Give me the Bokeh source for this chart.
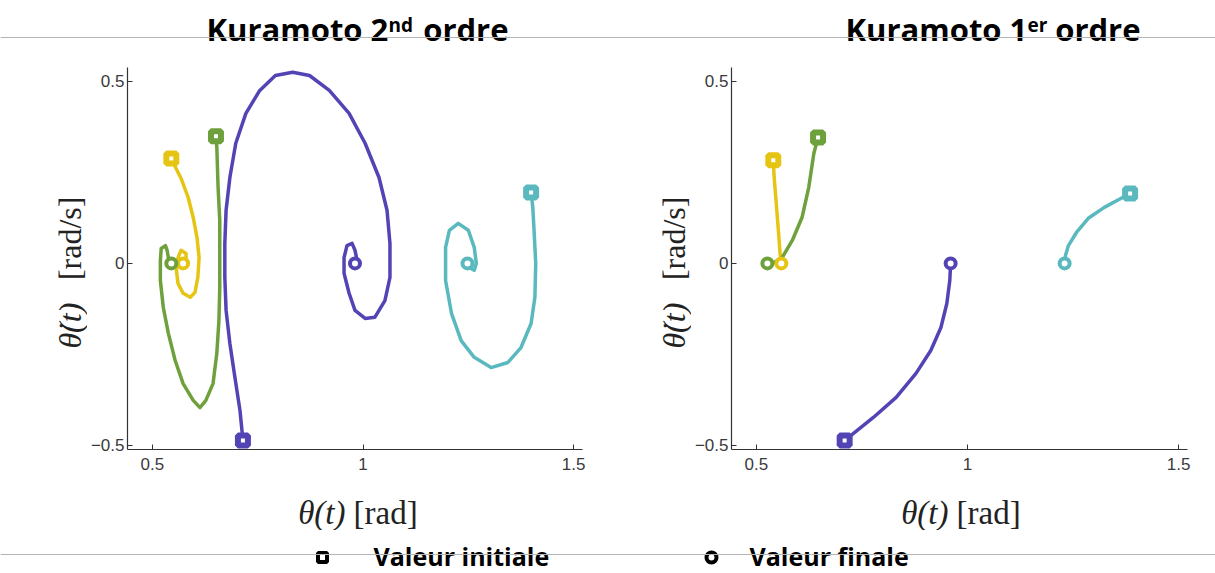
import math
from bokeh.plotting import figure
from bokeh.models import Range1d, FixedTicker, Span
from bokeh.layouts import column, row
from bokeh.embed import file_html
from bokeh.resources import INLINE
from bokeh.core.properties import value

# ---------------- data : Kuramoto 2nd ordre (left) ----------------
o2_yellow_x = [0.545, 0.550, 0.568, 0.585, 0.597, 0.606, 0.611, 0.608, 0.601, 0.590, 0.573, 0.561,
               0.557, 0.561, 0.568, 0.580, 0.580, 0.573, 0.573]
o2_yellow_y = [0.288, 0.275, 0.234, 0.181, 0.126, 0.071, 0.016, -0.038, -0.080, -0.093, -0.082, -0.055,
               -0.019, 0.016, 0.036, 0.027, 0.000, -0.011, 0.000]

o2_green_x = [0.651, 0.653, 0.656, 0.660, 0.660, 0.660, 0.658, 0.653, 0.644, 0.627, 0.613, 0.597,
              0.573, 0.554, 0.538, 0.526, 0.519, 0.519, 0.521, 0.531, 0.535, 0.538, 0.545]
o2_green_y = [0.349, 0.319, 0.209, 0.118, 0.027, -0.066, -0.157, -0.247, -0.330, -0.376, -0.396, -0.376,
              -0.330, -0.266, -0.192, -0.121, -0.047, 0.008, 0.041, 0.049, 0.036, 0.016, 0.000]

o2_purple_x = [0.715, 0.708, 0.696, 0.684, 0.675, 0.672, 0.672, 0.675, 0.684, 0.698, 0.722, 0.755,
               0.792, 0.833, 0.873, 0.920, 0.967, 1.005, 1.038, 1.057, 1.064, 1.064, 1.052, 1.028,
               1.005, 0.981, 0.967, 0.955, 0.955, 0.962, 0.974, 0.981, 0.986, 0.981]
o2_purple_y = [-0.486, -0.404, -0.313, -0.220, -0.129, -0.038, 0.055, 0.146, 0.236, 0.330, 0.412, 0.475,
               0.516, 0.525, 0.516, 0.475, 0.412, 0.330, 0.236, 0.146, 0.055, -0.038, -0.102, -0.148,
               -0.151, -0.129, -0.082, -0.027, 0.016, 0.049, 0.055, 0.036, 0.008, 0.000]

o2_cyan_x = [1.399, 1.403, 1.406, 1.410, 1.408, 1.399, 1.375, 1.344, 1.304, 1.264, 1.233, 1.210,
             1.196, 1.196, 1.205, 1.226, 1.250, 1.264, 1.269, 1.264, 1.252, 1.248]
o2_cyan_y = [0.195, 0.154, 0.091, 0.000, -0.093, -0.165, -0.231, -0.272, -0.286, -0.258, -0.212, -0.137,
             -0.047, 0.044, 0.091, 0.110, 0.091, 0.044, 0.000, -0.019, -0.011, 0.000]

# ---------------- data : Kuramoto 1er ordre (right) ----------------
o1_yellow_x = [0.540, 0.542, 0.547, 0.552, 0.556, 0.559]
o1_yellow_y = [0.283, 0.236, 0.165, 0.091, 0.027, 0.000]

o1_green_x = [0.646, 0.636, 0.624, 0.608, 0.585, 0.561, 0.538, 0.526]
o1_green_y = [0.346, 0.302, 0.209, 0.126, 0.063, 0.016, 0.000, 0.000]

o1_purple_x = [0.709, 0.730, 0.777, 0.831, 0.878, 0.913, 0.937, 0.951, 0.958, 0.960]
o1_purple_y = [-0.486, -0.467, -0.423, -0.368, -0.302, -0.239, -0.176, -0.110, -0.047, 0.000]

o1_cyan_x = [1.385, 1.364, 1.324, 1.286, 1.258, 1.239, 1.232, 1.230]
o1_cyan_y = [0.192, 0.179, 0.154, 0.124, 0.085, 0.049, 0.022, 0.000]

x_ticks = [0.5, 1.0, 1.5]
x_tick_labels = ["0.5", "1", "1.5"]
y_ticks = [-0.5, 0.0, 0.5]
y_tick_labels = ["\u22120.5", "0", "0.5"]

titles = [("Kuramoto 2", "nd", "ordre"), ("Kuramoto 1", "er", "ordre")]
legend_labels = ["Valeur initiale", "Valeur finale"]
x_label = ("\u03b8(t)", "[rad]")
y_label = ("\u03b8\u0307(t)", "[rad/s]")

PURPLE = "#5244B5"
YELLOW = "#E6C414"
GREEN = "#6EA03C"
CYAN = "#5AB9BE"

SERIF = value("Liberation Serif")
BOLD = value("Open Sans")
LABEL_COLOR = "#222222"
W = 1215


def panel(width, border_left, border_right, series):
    p = figure(width=width, height=424, x_range=Range1d(0.441, 1.521), y_range=Range1d(-0.511, 0.538),
               output_backend="svg", toolbar_location=None,
               min_border_left=border_left, min_border_right=border_right,
               min_border_top=9, min_border_bottom=33)
    p.grid.visible = False
    p.outline_line_color = None
    for xs, ys, col in series:
        p.line(xs, ys, line_color=col, line_width=3.5, line_join="round", line_cap="round")
    for xs, ys, col in series:
        p.scatter([xs[0]], [ys[0]], marker="square", size=10, line_width=6, line_color=col, fill_color="white")
        p.scatter([xs[-1]], [ys[-1]], marker="circle", size=10, line_width=4, line_color=col, fill_color="white")
    for ax in (p.xaxis[0], p.yaxis[0]):
        ax.axis_line_color = "#333333"
        ax.axis_line_width = 1.2
        ax.major_tick_line_color = "#333333"
        ax.major_tick_in = 5
        ax.major_tick_out = 0
        ax.minor_tick_line_color = None
        ax.major_label_text_font = "Liberation Sans"
        ax.major_label_text_font_size = "17px"
        ax.major_label_text_color = "#3a3a3a"
    p.xaxis.ticker = FixedTicker(ticks=x_ticks)
    p.xaxis.major_label_overrides = dict(zip(x_ticks, x_tick_labels))
    p.xaxis.major_label_standoff = 8
    p.yaxis.ticker = FixedTicker(ticks=y_ticks)
    p.yaxis.major_label_overrides = dict(zip(y_ticks, y_tick_labels))
    p.yaxis.major_label_standoff = 3
    return p


def strip(width, height):
    f = figure(width=width, height=height, x_range=Range1d(0, width), y_range=Range1d(0, height),
               output_backend="svg", toolbar_location=None, min_border=0,
               x_axis_location=None, y_axis_location=None)
    f.grid.visible = False
    f.outline_line_color = None
    return f


def ylabel_strip(width, xc):
    f = strip(width, 424)   # local y = 482 - page_y
    f.text(x=[xc], y=[112], text=[y_label[0]], angle=math.pi / 2, text_font=SERIF, text_font_style="italic",
           text_font_size="32px", text_align="left", text_baseline="middle", text_color=LABEL_COLOR)
    f.text(x=[xc], y=[188], text=[y_label[1]], angle=math.pi / 2, text_font=SERIF,
           text_font_size="32px", text_align="left", text_baseline="middle", text_color=LABEL_COLOR)
    return f


# panels: page y 58..482 ; frames at page x 124..582 and 727..1187, y 67..449
left = panel(521, 37, 26, [(o2_yellow_x, o2_yellow_y, YELLOW), (o2_green_x, o2_green_y, GREEN),
                           (o2_purple_x, o2_purple_y, PURPLE), (o2_cyan_x, o2_cyan_y, CYAN)])
right = panel(524, 36, 28, [(o1_yellow_x, o1_yellow_y, YELLOW), (o1_green_x, o1_green_y, GREEN),
                            (o1_purple_x, o1_purple_y, PURPLE), (o1_cyan_x, o1_cyan_y, CYAN)])
ylab_left = ylabel_strip(87, 69)       # page x 0..87
ylab_right = ylabel_strip(83, 65)      # page x 608..691

# header (page y 0..58); local y = 58 - page_y
header = strip(W, 58)
header.add_layout(Span(location=21, dimension="width", line_color="#b4b4b4", line_width=1))
for (main, sup, tail), x0, xs, x1 in zip(titles, [206, 845], [388, 1027], [508, 1140]):
    header.text(x=[x0], y=[30], text=[main], text_font=BOLD, text_font_style="bold",
                text_font_size="31px", text_align="left", text_baseline="middle", text_color="black")
    header.text(x=[xs], y=[34], text=[sup], text_font=BOLD, text_font_style="bold",
                text_font_size="19px", text_align="left", text_baseline="middle", text_color="black")
    header.text(x=[x1], y=[30], text=[tail], text_font=BOLD, text_font_style="bold",
                text_font_size="31px", text_align="right", text_baseline="middle", text_color="black")

# x-axis labels strip (page y 482..530); local y = 530 - page_y
xlab = strip(W, 48)
for xc in (354, 957):
    xlab.text(x=[xc - 9], y=[18], text=[x_label[0]], text_font=SERIF, text_font_style="italic",
              text_font_size="33px", text_align="right", text_baseline="middle", text_color=LABEL_COLOR)
    xlab.text(x=[xc - 1], y=[18], text=[x_label[1]], text_font=SERIF,
              text_font_size="33px", text_align="left", text_baseline="middle", text_color=LABEL_COLOR)

# legend strip (page y 530..573); local y = 573 - page_y
legend = strip(W, 43)
legend.add_layout(Span(location=19, dimension="width", line_color="#b4b4b4", line_width=1))
legend.scatter([322], [16], marker="square", size=9, line_width=4, line_color="black", fill_color="white")
legend.scatter([711], [16], marker="circle", size=10, line_width=4, line_color="black", fill_color="white")
legend.text(x=[373, 749], y=[18, 18], text=legend_labels, text_font=BOLD, text_font_style="bold",
            text_font_size="25px", text_align="left", text_baseline="middle", text_color="black")

layout = column(header, row(ylab_left, left, ylab_right, right), xlab, legend)
open("out.html", "w").write(file_html(layout, INLINE))
